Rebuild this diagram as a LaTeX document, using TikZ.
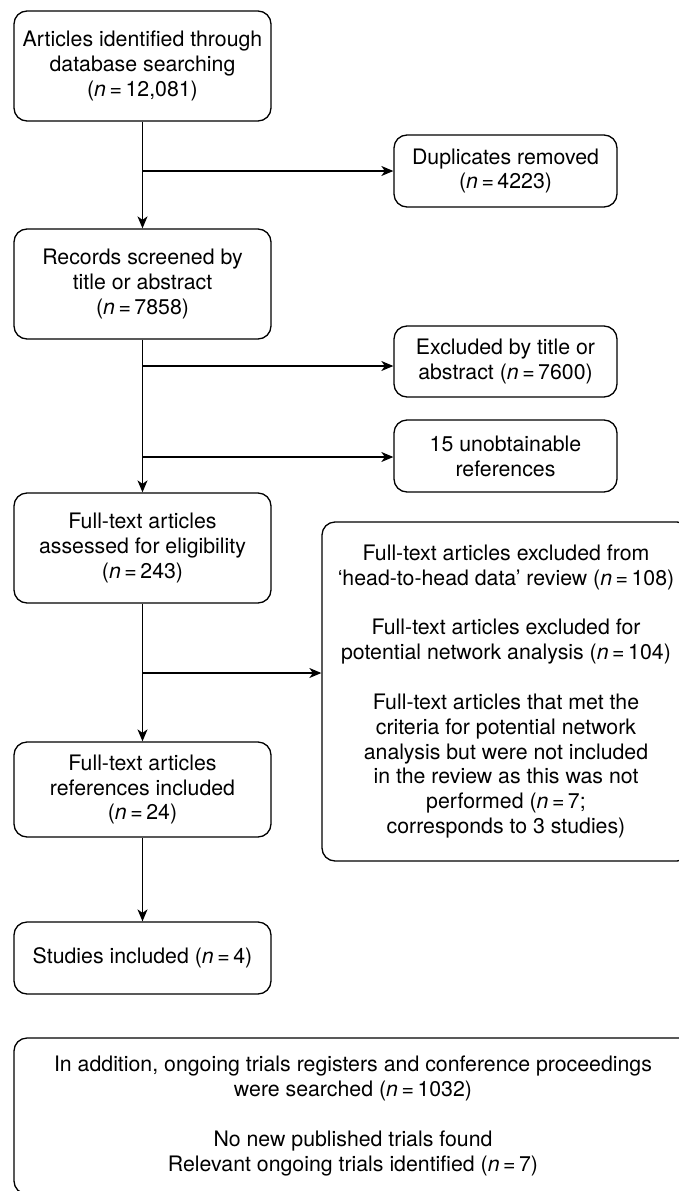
\documentclass[tikz,border=0pt]{standalone}
\usepackage{fontspec}
\setmainfont{TeX Gyre Heros}
\usetikzlibrary{arrows.meta}

\newcommand{\nval}[1]{(\textit{n}\,=\,#1)}

\tikzset{
  box/.style={draw, line width=1.3pt, rounded corners=13pt, align=center,
    inner sep=0pt, font=\fontsize{21.3}{24.8}\selectfont},
  arr/.style={line width=1.3pt, -{Stealth[length=12pt,width=10pt,inset=3.5pt]}},
}

\begin{document}
\begin{tikzpicture}[x=1pt, y=-1pt]
\clip (0,0) rectangle (679,1191);
\fill[white] (0,0) rectangle (679,1191);

% main column
\node[box, minimum width=257pt, minimum height=110pt] (ident) at (142.5,66)
  {Articles identified through\\database searching\\\nval{12,081}};
\node[box, minimum width=257pt, minimum height=110pt] (screen) at (142.5,284)
  {Records screened by\\title or abstract\\\nval{7858}};
\node[box, minimum width=257pt, minimum height=110pt] (assess) at (142.5,548)
  {Full-text articles\\assessed for eligibility\\\nval{243}};
\node[box, minimum width=257pt, minimum height=95pt] (incl) at (142.5,789.5)
  {Full-text articles\\references included\\\nval{24}};
\node[box, minimum width=257pt, minimum height=72pt] (studies) at (142.5,958)
  {Studies included \nval{4}};

% exclusion column
\node[box, minimum width=223pt, minimum height=72pt] (dup) at (505.5,171)
  {Duplicates removed\\\nval{4223}};
\node[box, minimum width=223pt, minimum height=71pt] (excl) at (505.5,361.5)
  {Excluded by title or\\abstract \nval{7600}};
\node[box, minimum width=223pt, minimum height=72pt] (unob) at (505.5,456)
  {15 unobtainable\\references};
\node[box, minimum width=368pt, minimum height=339pt] (ftex) at (506,691.5)
  {Full-text articles excluded from\\
   ‘head-to-head data’ review \nval{108}\\[25pt]
   Full-text articles excluded for\\
   potential network analysis \nval{104}\\[25pt]
   Full-text articles that met the\\
   criteria for potential network\\
   analysis but were not included\\
   in the review as this was not\\
   performed (\textit{n}\,=\,7;\\
   corresponds to 3 studies)};

% additional searches
\node[box, minimum width=678pt, minimum height=156pt] (extra) at (353,1116)
  {In addition, ongoing trials registers and conference proceedings\\
   were searched \nval{1032}\\[25pt]
   No new published trials found\\
   Relevant ongoing trials identified \nval{7}};

% branch points on the main flow
\coordinate (b1) at (142.5,171);
\coordinate (b2) at (142.5,366);
\coordinate (b3) at (142.5,457);
\coordinate (b4) at (142.5,673);

\draw[arr] (ident) -- (screen);
\draw[arr] (screen) -- (assess);
\draw[arr] (assess) -- (incl);
\draw[arr] (incl) -- (studies);

\draw[arr] (b1) -- (b1 -| dup.west);
\draw[arr] (b2) -- (b2 -| excl.west);
\draw[arr] (b3) -- (b3 -| unob.west);
\draw[arr] (b4) -- (b4 -| ftex.west);
\end{tikzpicture}
\end{document}
